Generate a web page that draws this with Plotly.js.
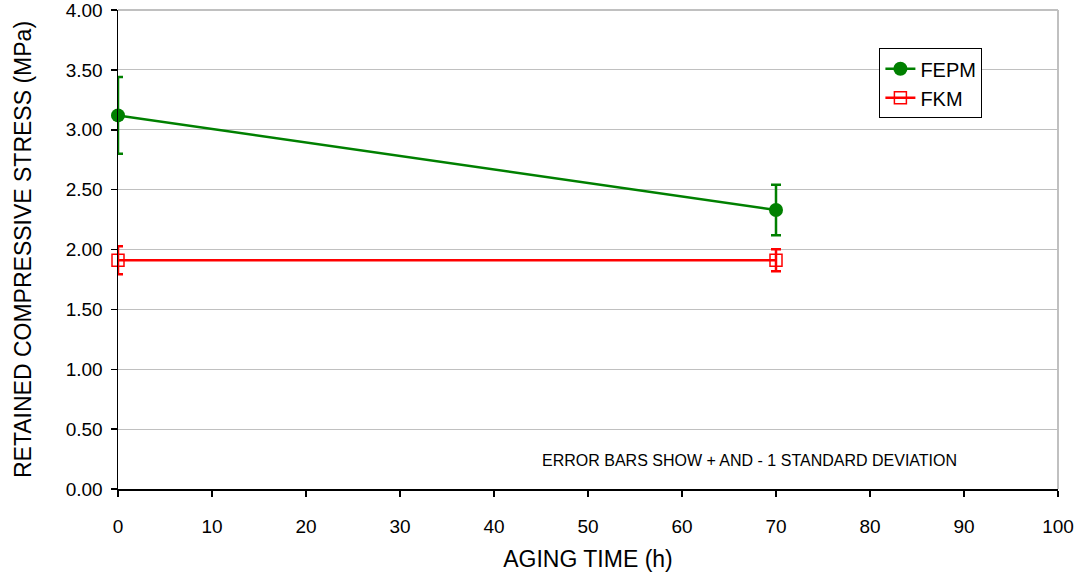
<!DOCTYPE html>
<html>
<head>
<meta charset="utf-8">
<script src="https://cdn.plot.ly/plotly-3.0.1.min.js"></script>
<style>html,body{margin:0;padding:0;background:#fff;}#chart{width:1082px;height:573px;}</style>
</head>
<body>
<div id="chart"></div>
<script>
const agingTime = [0, 70];
const fepmMean = [3.12, 2.33];
const fepmSD = [0.32, 0.21];
const fkmMean = [1.91, 1.91];
const fkmSD = [0.117, 0.092];
const xTicks = [0, 10, 20, 30, 40, 50, 60, 70, 80, 90, 100];
const yTicks = [0, 0.5, 1, 1.5, 2, 2.5, 3, 3.5, 4];

const FONT = 'Liberation Sans, Arial, sans-serif';

const traces = [
  {
    x: agingTime, y: fepmMean, name: 'FEPM', type: 'scatter', mode: 'lines+markers',
    cliponaxis: false,
    line: {color: '#008000', width: 2.5},
    marker: {symbol: 'circle', size: 14, color: '#008000'},
    error_y: {type: 'data', array: fepmSD, visible: true, color: '#008000', thickness: 2.5, width: 5}
  },
  {
    x: agingTime, y: fkmMean, name: 'FKM', type: 'scatter', mode: 'lines+markers',
    cliponaxis: false,
    line: {color: '#ff0000', width: 2.5},
    marker: {symbol: 'square-open', size: 12, color: '#ff0000', line: {width: 1.5, color: '#ff0000'}},
    error_y: {type: 'data', array: fkmSD, visible: true, color: '#ff0000', thickness: 2.5, width: 5}
  }
];

const layout = {
  width: 1082, height: 573,
  margin: {l: 118, r: 24, t: 10, b: 84},
  paper_bgcolor: '#ffffff', plot_bgcolor: '#ffffff',
  font: {family: FONT, color: '#000', size: 19},
  showlegend: true,
  legend: {
    x: 0.81, y: 0.92, xanchor: 'left', yanchor: 'top',
    bgcolor: '#ffffff', bordercolor: '#000', borderwidth: 1,
    font: {family: FONT, size: 20, color: '#000'},
    itemwidth: 30, tracegroupgap: 0
  },
  xaxis: {
    range: [0, 100], tickvals: xTicks, ticktext: xTicks.map(String),
    showgrid: false, zeroline: false,
    showline: true, linecolor: '#000', linewidth: 1.5,
    ticks: 'outside', ticklen: 6, tickcolor: '#000', tickwidth: 1.5,
    ticklabelstandoff: 14, ticklabeloverflow: 'allow',
    tickfont: {family: FONT, size: 19},
    title: {text: 'AGING TIME (h)', font: {family: FONT, size: 23}, standoff: 14}
  },
  yaxis: {
    range: [0, 4], tickvals: yTicks, ticktext: yTicks.map(v => v.toFixed(2)),
    showgrid: true, gridcolor: '#c0c0c0', gridwidth: 1, zeroline: false,
    showline: true, linecolor: '#000', linewidth: 1.5,
    ticks: 'outside', ticklen: 6, tickcolor: '#000', tickwidth: 1.5,
    ticklabelstandoff: 4, ticklabeloverflow: 'allow',
    tickfont: {family: FONT, size: 19},
    title: {text: 'RETAINED COMPRESSIVE STRESS (MPa)', font: {family: FONT, size: 23}, standoff: 27}
  },
  shapes: [
    {type: 'line', xref: 'paper', yref: 'paper', x0: 0, x1: 1, y0: 1, y1: 1, line: {color: '#c0c0c0', width: 2}, layer: 'below'},
    {type: 'line', xref: 'paper', yref: 'paper', x0: 1, x1: 1, y0: 0, y1: 1, line: {color: '#c0c0c0', width: 2}, layer: 'below'}
  ],
  annotations: [
    {text: 'ERROR BARS SHOW + AND - 1 STANDARD DEVIATION', xref: 'paper', yref: 'paper',
     x: 0.895, y: 0.06, xanchor: 'right', yanchor: 'middle', showarrow: false,
     font: {family: FONT, size: 16, color: '#000'}}
  ]
};

Plotly.newPlot('chart', traces, layout, {displayModeBar: false, staticPlot: true});
</script>
</body>
</html>
